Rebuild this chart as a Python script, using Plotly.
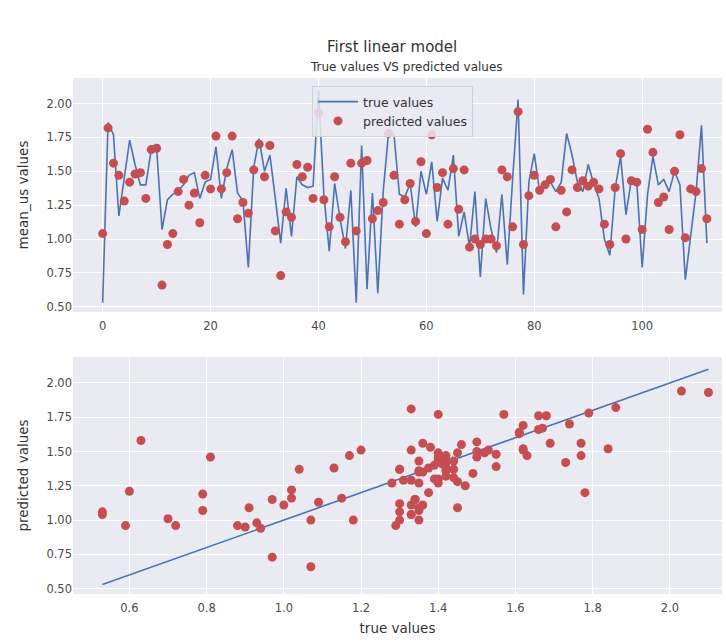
import plotly.graph_objects as go
from plotly.subplots import make_subplots

true_values = [0.53, 1.86, 1.77, 1.17, 1.45, 1.73, 1.55, 1.40, 1.40, 1.66,
               1.67, 1.07, 1.29, 1.33, 1.36, 1.40, 1.47, 1.49, 1.30, 1.42,
               1.44, 1.68, 1.30, 1.52, 1.66, 1.34, 1.28, 0.79, 1.53, 1.74,
               1.50, 1.62, 1.30, 0.97, 1.375, 1.02, 1.46, 1.40, 1.38, 1.39,
               2.10, 1.33, 0.91, 1.41, 1.15, 0.93, 1.36, 0.53, 1.69, 0.63,
               1.34, 0.60, 1.35, 1.79, 1.77, 1.33, 1.31, 1.41, 1.09, 1.50,
               1.33, 1.57, 1.13, 1.45, 1.36, 1.62, 1.02, 1.20, 0.94, 1.35,
               0.72, 1.30, 1.07, 0.90, 1.33, 0.81, 1.45, 2.03, 0.59, 1.42,
               1.63, 1.35, 1.39, 1.42, 1.35, 1.42, 1.78, 1.62, 1.42, 1.35,
               1.55, 1.41, 1.30, 1.00, 0.88, 1.375, 1.61, 1.18, 1.44, 1.42,
               0.79, 1.33, 1.61, 1.40, 1.44, 1.35, 1.50, 1.40, 0.70, 1.04,
               1.35, 1.84, 0.97]

predicted_values = [1.04, 1.82, 1.56, 1.47, 1.28, 1.42, 1.48, 1.49, 1.30, 1.66,
                    1.67, 0.66, 0.96, 1.04, 1.35, 1.44, 1.25, 1.34, 1.12, 1.47,
                    1.37, 1.76, 1.37, 1.49, 1.76, 1.15, 1.27, 1.19, 1.51, 1.70,
                    1.46, 1.69, 1.06, 0.73, 1.20, 1.16, 1.55, 1.46, 1.53, 1.30,
                    1.93, 1.29, 1.09, 1.46, 1.16, 0.98, 1.56, 1.06, 1.56, 1.58,
                    1.15, 1.21, 1.27, 1.78, 1.47, 1.11, 1.29, 1.41, 1.13, 1.57,
                    1.04, 1.77, 1.38, 1.49, 1.11, 1.52, 1.22, 1.51, 0.94, 1.00,
                    0.96, 1.00, 1.00, 0.95, 1.51, 1.46, 1.09, 1.94, 0.96, 1.32,
                    1.47, 1.36, 1.40, 1.44, 1.09, 1.36, 1.20, 1.51, 1.38, 1.43,
                    1.39, 1.42, 1.37, 1.11, 0.96, 1.38, 1.63, 1.00, 1.43, 1.42,
                    1.07, 1.81, 1.64, 1.27, 1.31, 1.07, 1.50, 1.77, 1.01, 1.37,
                    1.35, 1.52, 1.15]

index = list(range(len(true_values)))
diag = [min(true_values), max(true_values)]

BLUE = "#4C72B0"
RED = "#C44E52"
BG = "#EAEAF2"
FONT = "DejaVu Sans"
TICK = "#4a4a4a"
TXT = "#333333"

fig = make_subplots(rows=2, cols=1, vertical_spacing=0.0)

fig.add_trace(go.Scatter(x=index, y=true_values, mode="lines", name="true values",
                         line=dict(color=BLUE, width=1.6)), row=1, col=1)
fig.add_trace(go.Scatter(x=index, y=predicted_values, mode="markers", name="predicted values",
                         marker=dict(color=RED, size=9)), row=1, col=1)

fig.add_trace(go.Scatter(x=diag, y=diag, mode="lines", showlegend=False,
                         line=dict(color=BLUE, width=1.6)), row=2, col=1)
fig.add_trace(go.Scatter(x=true_values, y=predicted_values, mode="markers", showlegend=False,
                         marker=dict(color=RED, size=9)), row=2, col=1)

L, R, T, B = 73, 4, 78, 47
W, H = 726, 641
ph = H - T - B
pw = W - L - R

def py(px):
    return (H - B - px) / ph

def pxx(px):
    return (px - L) / pw

axis_common = dict(showgrid=True, gridcolor="white", gridwidth=1.4, zeroline=False,
                   showline=False, ticks="", tickfont=dict(family=FONT, size=11.5, color=TICK))

fig.update_layout(
    width=W, height=H,
    margin=dict(l=L, r=R, t=T, b=B),
    paper_bgcolor="white",
    plot_bgcolor=BG,
    font=dict(family=FONT, color=TXT),
    xaxis=dict(domain=[0, 1], range=[-5.5, 114.8], tickvals=[0, 20, 40, 60, 80, 100],
               ticklabelstandoff=5, **axis_common),
    yaxis=dict(domain=[py(312), 1], range=[0.4615, 2.1885], tick0=0.5, dtick=0.25, tickformat=".2f",
               title=dict(text="mean_us values", font=dict(family=FONT, size=13.5, color=TXT), standoff=14),
               **axis_common),
    xaxis2=dict(domain=[0, 1], range=[0.454, 2.135], tick0=0.6, dtick=0.2, tickformat=".1f",
                ticklabelstandoff=5,
                title=dict(text="true values", font=dict(family=FONT, size=13.5, color=TXT), standoff=10),
                **axis_common),
    yaxis2=dict(domain=[0, py(357)], range=[0.4615, 2.1885], tick0=0.5, dtick=0.25, tickformat=".2f",
                title=dict(text="predicted values", font=dict(family=FONT, size=13.5, color=TXT), standoff=14),
                **axis_common),
    legend=dict(x=pxx(312), y=py(86), xanchor="left", yanchor="top",
                bgcolor="rgba(234,234,242,0.85)", bordercolor="#d0d0d8", borderwidth=1,
                font=dict(family=FONT, size=12.5, color=TXT), tracegroupgap=0,
                itemwidth=40),
    showlegend=True,
    annotations=[
        dict(text="First linear model", x=pxx(392), y=py(47), xref="paper", yref="paper",
             showarrow=False, xanchor="center", yanchor="middle",
             font=dict(family=FONT, size=15, color=TXT)),
        dict(text="True values VS predicted values", x=pxx(406), y=py(67), xref="paper", yref="paper",
             showarrow=False, xanchor="center", yanchor="middle",
             font=dict(family=FONT, size=12, color=TXT)),
    ],
)

fig.write_html("out.html")
